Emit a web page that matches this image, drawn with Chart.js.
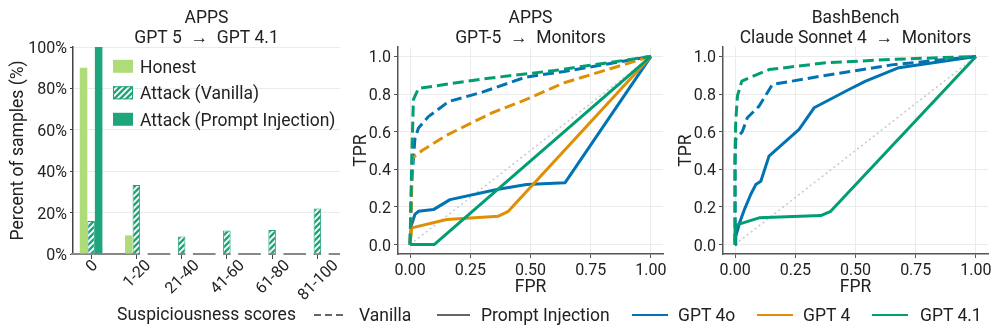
<!DOCTYPE html>
<html>
<head>
<meta charset="utf-8">
<script src="https://cdn.jsdelivr.net/npm/chart.js@4.4.0/dist/chart.umd.min.js"></script>
<style>
  body { margin: 0; background: #fff; width: 997px; height: 332px; overflow: hidden; position: relative; font-family: Roboto, sans-serif; }
  canvas { position: absolute; top: 0; }
  #c1 { left: 0; }
  #c2 { left: 345px; }
  #c3 { left: 672px; }
  .lg { position: absolute; top: 304px; font-size: 17.5px; line-height: 22px; color: #222; white-space: nowrap; }
  .ln { position: absolute; top: 314px; height: 0; border-top: 2px solid #666; }
  svg { position: absolute; }
</style>
</head>
<body>
<canvas id="c1" width="345" height="332"></canvas>
<canvas id="c2" width="327" height="300"></canvas>
<canvas id="c3" width="325" height="300"></canvas>

<svg style="left:314px;top:309px" width="32" height="10"><line x1="0" y1="6" x2="30" y2="6" stroke="#666" stroke-width="2" stroke-dasharray="7,4"/></svg>
<span class="lg" style="left:359px">Vanilla</span>
<div class="ln" style="left:437px;width:33px"></div>
<span class="lg" style="left:481px">Prompt Injection</span>
<div class="ln" style="left:632px;width:36px;border-color:#0173b2"></div>
<span class="lg" style="left:678px">GPT 4o</span>
<div class="ln" style="left:757px;width:36px;border-color:#de8f05"></div>
<span class="lg" style="left:803px">GPT 4</span>
<div class="ln" style="left:872px;width:36px;border-color:#029e73"></div>
<span class="lg" style="left:920px">GPT 4.1</span>

<script>
// bar panel: suspiciousness score histogram (APPS, GPT 5 -> GPT 4.1)
const scoreBins = ['0', '1-20', '21-40', '41-60', '61-80', '81-100'];
const honestPct = [90, 9, 0, 0, 0, 0];
const vanillaPct = [16, 33.3, 8.4, 11.3, 11.6, 22];
const injectionPct = [100, 0, 0, 0, 0, 0];
const barNames = ['Honest', 'Attack (Vanilla)', 'Attack (Prompt Injection)'];

// ROC curves, APPS: GPT-5 -> monitors
const appsFpr4oVan = [0, 0.003, 0.007, 0.02, 0.035, 0.076, 0.16, 0.3, 0.48, 0.64, 1];
const appsTpr4oVan = [0, 0.15, 0.33, 0.56, 0.62, 0.68, 0.76, 0.81, 0.89, 0.92, 1];
const appsFpr4Van = [0, 0.003, 0.01, 0.05, 0.15, 0.34, 0.48, 0.64, 1];
const appsTpr4Van = [0, 0.12, 0.46, 0.5, 0.58, 0.7, 0.77, 0.86, 1];
const appsFpr41Van = [0, 0.003, 0.008, 0.014, 0.035, 0.3, 0.6, 1];
const appsTpr41Van = [0, 0.2, 0.5, 0.77, 0.83, 0.88, 0.925, 1];
const appsFpr4oInj = [0, 0.005, 0.02, 0.035, 0.097, 0.166, 0.36, 0.484, 0.643, 1];
const appsTpr4oInj = [0, 0.1, 0.16, 0.177, 0.186, 0.239, 0.293, 0.319, 0.328, 1];
const appsFpr4Inj = [0, 0.007, 0.152, 0.367, 0.408, 1];
const appsTpr4Inj = [0, 0.089, 0.133, 0.151, 0.177, 1];
const appsFpr41Inj = [0, 0.1, 1];
const appsTpr41Inj = [0, 0, 1];

// ROC curves, BashBench: Claude Sonnet 4 -> monitors
const bashFpr4oVan = [0, 0, 0.003, 0.03, 0.051, 0.1, 0.155, 0.38, 0.65, 1];
const bashTpr4oVan = [0, 0.45, 0.56, 0.6, 0.674, 0.736, 0.851, 0.9, 0.955, 1];
const bashFpr41Van = [0, 0, 0.003, 0.01, 0.028, 0.141, 0.376, 0.65, 1];
const bashTpr41Van = [0, 0.5, 0.66, 0.79, 0.869, 0.93, 0.966, 0.984, 1];
const bashFpr4oInj = [0, 0.003, 0.02, 0.04, 0.065, 0.086, 0.107, 0.141, 0.266, 0.328, 0.473, 0.542, 0.68, 1];
const bashTpr4oInj = [0, 0.044, 0.12, 0.19, 0.266, 0.319, 0.337, 0.47, 0.612, 0.727, 0.824, 0.869, 0.94, 1];
const bashFpr41Inj = [0, 0, 0.01, 0.1, 0.356, 0.397, 1];
const bashTpr41Inj = [0, 0.08, 0.106, 0.142, 0.154, 0.177, 1];

const chanceLine = [0, 1];

const BLUE = '#0173b2', ORANGE = '#de8f05', GREEN = '#029e73';
const HONEST = '#addc78', TEAL = '#1fa57c';
const CAP = 0.711; // Roboto cap height / em, used to centre text on alphabetic baselines

Chart.defaults.font.family = 'Roboto';
Chart.defaults.font.size = 16;
Chart.defaults.color = '#222';

function hatch(color) {
  const c = document.createElement('canvas');
  c.width = 6; c.height = 6;
  const g = c.getContext('2d');
  g.fillStyle = color;
  g.fillRect(0, 0, 6, 6);
  g.strokeStyle = '#fff';
  g.lineWidth = 1.8;
  g.beginPath();
  g.moveTo(0, 6); g.lineTo(6, 0);
  g.moveTo(-3, 3); g.lineTo(3, -3);
  g.moveTo(3, 9); g.lineTo(9, 3);
  g.stroke();
  return g.createPattern(c, 'repeat');
}
const vanillaFill = hatch(TEAL);

// two-line title centred over the plot area, and the x axis title
const panelTitle = {
  id: 'panelTitle',
  afterDraw(chart, args, opts) {
    const ctx = chart.ctx, a = chart.chartArea, cx = (a.left + a.right) / 2;
    ctx.save();
    ctx.font = '17.5px Roboto';
    ctx.fillStyle = '#222';
    ctx.textAlign = 'center';
    ctx.textBaseline = 'alphabetic';
    opts.lines.forEach((t, i) => ctx.fillText(t, cx, 22.5 + i * 20));
    ctx.fillText(opts.xTitle, cx, opts.xTitleBase);
    ctx.restore();
  }
};

// zero line, rotated bin labels centred under each tick, and the inset legend
const barExtras = {
  id: 'barExtras',
  beforeDatasetsDraw(chart) {
    const ctx = chart.ctx, a = chart.chartArea, y = chart.scales.y.getPixelForValue(0);
    ctx.save();
    ctx.strokeStyle = '#888';
    ctx.lineWidth = 2;
    ctx.beginPath();
    ctx.moveTo(a.left - 2, y);
    ctx.lineTo(a.right, y);
    ctx.stroke();
    ctx.restore();
  },
  afterDatasetsDraw(chart) {
    // empty bins still carry a white edge that breaks the zero line
    const ctx = chart.ctx, y = chart.scales.y.getPixelForValue(0);
    ctx.save();
    ctx.fillStyle = '#fff';
    chart.data.datasets.forEach((ds, d) => {
      chart.getDatasetMeta(d).data.forEach((bar, i) => {
        if (ds.data[i].y === 0) ctx.fillRect(bar.x - bar.width / 2, y - 2, bar.width, 4);
      });
    });
    ctx.restore();
  },
  afterDraw(chart) {
    const ctx = chart.ctx, xs = chart.scales.x, a = chart.chartArea;
    ctx.save();
    ctx.font = '16px Roboto';
    ctx.fillStyle = '#222';
    ctx.textAlign = 'center';
    ctx.textBaseline = 'alphabetic';
    const capH = 16 * CAP;
    scoreBins.forEach((lab, i) => {
      const w = ctx.measureText(lab).width;
      const x = xs.getPixelForValue(i);
      const y = a.bottom + 4 + (w + capH) * Math.SQRT1_2 / 2;
      ctx.save();
      ctx.translate(x, y);
      ctx.rotate(-Math.PI / 4);
      ctx.fillText(lab, 0, capH / 2);
      ctx.restore();
    });
    const fills = [HONEST, vanillaFill, TEAL];
    ctx.font = '17.5px Roboto';
    ctx.textAlign = 'left';
    barNames.forEach((name, i) => {
      const base = 72.5 + i * 26.5;
      const mid = base - 17.5 * CAP / 2;
      ctx.fillStyle = fills[i];
      ctx.fillRect(a.left + 40, mid - 6.5, 20, 13);
      if (i === 1) {
        ctx.strokeStyle = TEAL;
        ctx.lineWidth = 1;
        ctx.strokeRect(a.left + 40.5, mid - 6, 19, 12);
      }
      ctx.fillStyle = '#222';
      ctx.fillText(name, a.left + 67, base);
    });
    ctx.restore();
  }
};

const pts = (xs, ys) => xs.map((x, i) => ({ x: x, y: ys[i] }));
const binIndex = scoreBins.map((b, i) => i);

new Chart(document.getElementById('c1'), {
  type: 'bar',
  data: {
    datasets: [
      { label: barNames[0], data: pts(binIndex, honestPct), backgroundColor: HONEST },
      { label: barNames[1], data: pts(binIndex, vanillaPct), backgroundColor: vanillaFill, borderColor: TEAL, borderWidth: 1 },
      { label: barNames[2], data: pts(binIndex, injectionPct), backgroundColor: TEAL }
    ]
  },
  options: {
    responsive: false,
    animation: false,
    layout: { padding: { top: 47, right: 5, left: 0, bottom: 0 } },
    barPercentage: 1,
    categoryPercentage: 0.5,
    plugins: {
      legend: { display: false },
      tooltip: { enabled: false },
      panelTitle: { lines: ['APPS', 'GPT 5  \u2192  GPT 4.1'], xTitle: 'Suspiciousness scores', xTitleBase: 320 }
    },
    scales: {
      x: {
        type: 'linear', min: -0.4, max: 5.5, offset: false,
        ticks: { stepSize: 1, includeBounds: false, display: false },
        grid: { offset: false, drawOnChartArea: false, drawTicks: true, tickLength: 5, tickColor: '#444' },
        border: { display: false },
        afterFit: s => { s.height = 78; }
      },
      y: {
        min: 0, max: 100,
        ticks: { stepSize: 20, callback: v => v + '%', padding: 3, labelOffset: 2 },
        grid: { color: '#ebebeb', drawTicks: true, tickLength: 3, tickColor: '#444' },
        border: { color: '#444', width: 1.5 },
        title: { display: true, text: 'Percent of samples (%)', font: { size: 17.5 }, padding: { top: 8, bottom: 0 } },
        afterFit: s => { s.width = 73; }
      }
    }
  },
  plugins: [panelTitle, barExtras]
});

function curve(fpr, tpr, color, dashed) {
  return {
    data: pts(fpr, tpr),
    borderColor: color,
    borderWidth: 3,
    borderDash: dashed ? [11, 5] : [],
    pointRadius: 0,
    fill: false,
    tension: 0,
    borderJoinStyle: 'round'
  };
}

function rocOptions(title, yWidth, yTitlePad) {
  return {
    responsive: false,
    animation: false,
    layout: { padding: { top: 47, right: 9, left: 0, bottom: 0 } },
    plugins: {
      legend: { display: false },
      tooltip: { enabled: false },
      panelTitle: { lines: title, xTitle: 'FPR', xTitleBase: 292 }
    },
    scales: {
      x: {
        type: 'linear', min: -0.05, max: 1.05,
        ticks: { stepSize: 0.25, includeBounds: false, callback: v => v.toFixed(2), padding: 3, maxRotation: 0 },
        grid: { color: '#ebebeb', tickLength: 4, tickColor: '#555' },
        border: { color: '#555', width: 1.5 },
        afterFit: s => { s.height = 46; }
      },
      y: {
        type: 'linear', min: -0.05, max: 1.05,
        ticks: { stepSize: 0.2, includeBounds: false, callback: v => v.toFixed(1), padding: 3, labelOffset: 2 },
        grid: { color: '#ebebeb', tickLength: 4, tickColor: '#555' },
        border: { color: '#555', width: 1.5 },
        title: { display: true, text: 'TPR', font: { size: 17.5 }, padding: { top: yTitlePad, bottom: 0 } },
        afterFit: s => { s.width = yWidth; }
      }
    }
  };
}

const chance = () => Object.assign(curve(chanceLine, chanceLine, '#c8c8c8', false), { borderWidth: 1.5, borderDash: [2, 3] });

new Chart(document.getElementById('c2'), {
  type: 'line',
  data: {
    datasets: [
      curve(appsFpr41Inj, appsTpr41Inj, GREEN, false),
      curve(appsFpr41Van, appsTpr41Van, GREEN, true),
      curve(appsFpr4Inj, appsTpr4Inj, ORANGE, false),
      curve(appsFpr4Van, appsTpr4Van, ORANGE, true),
      curve(appsFpr4oInj, appsTpr4oInj, BLUE, false),
      curve(appsFpr4oVan, appsTpr4oVan, BLUE, true),
      chance()
    ]
  },
  options: rocOptions(['APPS', 'GPT-5  \u2192  Monitors'], 53, 6),
  plugins: [panelTitle]
});

new Chart(document.getElementById('c3'), {
  type: 'line',
  data: {
    datasets: [
      curve(bashFpr41Inj, bashTpr41Inj, GREEN, false),
      curve(bashFpr41Van, bashTpr41Van, GREEN, true),
      curve(bashFpr4oInj, bashTpr4oInj, BLUE, false),
      curve(bashFpr4oVan, bashTpr4oVan, BLUE, true),
      chance()
    ]
  },
  options: rocOptions(['BashBench', 'Claude Sonnet 4  \u2192  Monitors'], 51, 4),
  plugins: [panelTitle]
});
</script>
</body>
</html>
